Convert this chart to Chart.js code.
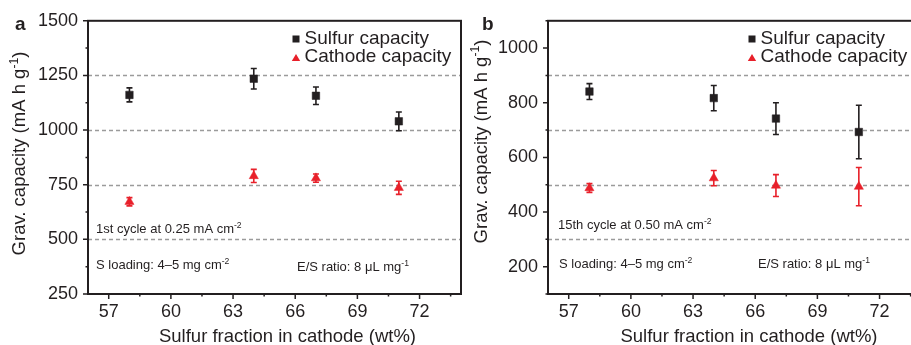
<!DOCTYPE html>
<html>
<head>
<meta charset="utf-8">
<script src="https://cdn.jsdelivr.net/npm/chart.js@4.4.0/dist/chart.umd.min.js"></script>
<style>
  html, body { margin: 0; padding: 0; background: #fff; overflow: hidden; }
  #wrap { position: relative; width: 911px; height: 345px; overflow: hidden; }
  canvas { position: absolute; top: 0; }
  #panelA { left: 0; }
  #panelB { left: 460px; }
</style>
</head>
<body>
<div id="wrap">
  <canvas id="panelA" width="463" height="345"></canvas>
  <canvas id="panelB" width="463" height="345"></canvas>
</div>
<script>
// values
const sulfurFraction = [58, 64, 67, 71];
const xTicks = [57, 60, 63, 66, 69, 72];
const xMinor = [58.5, 61.5, 64.5, 67.5, 70.5, 73.5];

// (a) 1st cycle
const sulfurCapA = [1161, 1235, 1157, 1040];
const sulfurErrA = [32, 47, 40, 43];
const cathodeCapA = [672, 790, 780, 736];
const cathodeErrA = [19, 30, 19, 30];
const yTicksA = [250, 500, 750, 1000, 1250, 1500];
const yMinorA = [375, 625, 875, 1125, 1375];
const dashedA = [500, 750, 1000, 1250];

// (b) 15th cycle
const sulfurCapB = [841, 817, 742, 693];
const sulfurErrB = [29, 46, 58, 98];
const cathodeCapB = [488, 524, 497, 493];
const cathodeErrB = [16, 28, 40, 70];
const yTicksB = [200, 400, 600, 800, 1000];
const yMinorB = [100, 300, 500, 700, 900, 1100];
const dashedB = [300, 500, 700, 900];

const ink = '#231f20';
const red = '#e8202a';
const FONT = "'Liberation Sans', Arial, sans-serif";

// text with superscript pieces: segs = [[text, isSup], ...]
function drawRich(ctx, segs, x, y, size, align) {
  const supSize = size * 0.66;
  let total = 0;
  segs.forEach(s => {
    ctx.font = (s[1] ? supSize : size) + 'px ' + FONT;
    total += ctx.measureText(s[0]).width;
  });
  let cx = align === 'center' ? x - total / 2 : x;
  ctx.textAlign = 'left';
  ctx.textBaseline = 'alphabetic';
  segs.forEach(s => {
    ctx.font = (s[1] ? supSize : size) + 'px ' + FONT;
    ctx.fillText(s[0], cx, s[1] ? y - size * 0.38 : y);
    cx += ctx.measureText(s[0]).width;
  });
}

function makePanel(id, opt) {
  const decor = {
    id: 'decor',
    beforeDatasetsDraw(chart) {
      const ctx = chart.ctx;
      const area = chart.chartArea;
      const xs = chart.scales.x, ys = chart.scales.y;
      ctx.save();
      // dashed reference lines
      ctx.strokeStyle = '#9b9b9b';
      ctx.lineWidth = 1.5;
      ctx.setLineDash([4, 3]);
      opt.dashed.forEach(v => {
        const y = Math.round(ys.getPixelForValue(v)) + 0.5;
        ctx.beginPath();
        ctx.moveTo(area.left, y);
        ctx.lineTo(area.right, y);
        ctx.stroke();
      });
      ctx.setLineDash([]);
      // error bars
      chart.data.datasets.forEach(ds => {
        ctx.strokeStyle = ds.pointBackgroundColor;
        ctx.lineWidth = 1.6;
        ds.err.forEach((e, j) => {
          const x = xs.getPixelForValue(sulfurFraction[j]);
          const v = ds.data[j].y;
          const y1 = ys.getPixelForValue(v + e);
          const y2 = ys.getPixelForValue(v - e);
          ctx.beginPath();
          ctx.moveTo(x, y1); ctx.lineTo(x, y2);
          ctx.moveTo(x - 3, y1); ctx.lineTo(x + 3, y1);
          ctx.moveTo(x - 3, y2); ctx.lineTo(x + 3, y2);
          ctx.stroke();
        });
      });
      ctx.restore();
    },
    afterDraw(chart) {
      const ctx = chart.ctx;
      const area = chart.chartArea;
      const xs = chart.scales.x, ys = chart.scales.y;
      ctx.save();
      // frame
      ctx.strokeStyle = ink;
      ctx.lineWidth = 2;
      ctx.strokeRect(area.left, area.top, area.right - area.left, area.bottom - area.top);
      // tick marks
      ctx.lineWidth = 1.5;
      ctx.beginPath();
      opt.yTicks.forEach(v => {
        const y = ys.getPixelForValue(v);
        ctx.moveTo(area.left - 5, y); ctx.lineTo(area.left, y);
      });
      opt.yMinor.forEach(v => {
        const y = ys.getPixelForValue(v);
        ctx.moveTo(area.left - 2.5, y); ctx.lineTo(area.left, y);
      });
      xTicks.forEach(v => {
        const x = xs.getPixelForValue(v);
        ctx.moveTo(x, area.bottom); ctx.lineTo(x, area.bottom + 5);
      });
      xMinor.forEach(v => {
        const x = xs.getPixelForValue(v);
        ctx.moveTo(x, area.bottom); ctx.lineTo(x, area.bottom + 2.5);
      });
      ctx.stroke();

      ctx.fillStyle = ink;
      // axis titles
      drawRich(ctx, [['Sulfur fraction in cathode (wt%)', 0]], opt.xTitleX, 342, 18.5, 'center');
      ctx.save();
      ctx.translate(opt.yTitleX, opt.yTitleY);
      ctx.rotate(-Math.PI / 2);
      drawRich(ctx, [['Grav. capacity (mA h g', 0], ['-1', 1], [')', 0]], 0, 0, 18.5, 'center');
      ctx.restore();

      // panel letter
      ctx.font = 'bold 19px ' + FONT;
      ctx.textAlign = 'left';
      ctx.fillText(opt.letter, opt.letterX, 30);

      // legend
      const lx = opt.legendX;
      ctx.fillStyle = ink;
      ctx.fillRect(lx - 3.5, 35.5, 7, 7);
      ctx.fillStyle = red;
      ctx.beginPath();
      ctx.moveTo(lx, 54); ctx.lineTo(lx + 4.2, 61); ctx.lineTo(lx - 4.2, 61);
      ctx.closePath(); ctx.fill();
      ctx.fillStyle = ink;
      ctx.font = '19px ' + FONT;
      ctx.fillText(chart.data.datasets[0].label, lx + 8.5, 43.5);
      ctx.fillText(chart.data.datasets[1].label, lx + 8.5, 62);

      // notes
      drawRich(ctx, opt.note1, opt.note1X, opt.note1Y, 13, 'left');
      drawRich(ctx, [['S loading: 4\u20135 mg cm', 0], ['-2', 1]], opt.note2X, opt.note2Y, 13, 'left');
      drawRich(ctx, [['E/S ratio: 8 \u03bcL mg', 0], ['-1', 1]], opt.note3X, opt.note3Y, 13, 'left');
      ctx.restore();
    }
  };

  return new Chart(document.getElementById(id), {
    type: 'scatter',
    data: {
      datasets: [{
        label: 'Sulfur capacity',
        data: opt.sulfur.map((v, i) => ({ x: sulfurFraction[i], y: v })),
        err: opt.sulfurErr,
        pointStyle: 'rect',
        pointRadius: 5.3,
        pointBackgroundColor: ink,
        pointBorderColor: ink,
        pointBorderWidth: 0.5
      }, {
        label: 'Cathode capacity',
        data: opt.cathode.map((v, i) => ({ x: sulfurFraction[i], y: v })),
        err: opt.cathodeErr,
        pointStyle: 'triangle',
        pointRadius: 5.3,
        pointBackgroundColor: red,
        pointBorderColor: red,
        pointBorderWidth: 0.5
      }]
    },
    options: {
      responsive: false,
      animation: false,
      events: [],
      layout: { autoPadding: false, padding: { top: 20, right: 2, left: 0, bottom: 0 } },
      plugins: { legend: { display: false }, tooltip: { enabled: false } },
      scales: {
        x: {
          type: 'linear', min: 56, max: 74,
          afterBuildTicks: s => { s.ticks = xTicks.map(v => ({ value: v })); },
          afterFit: s => { s.height = 51; },
          grid: { display: false, drawTicks: false },
          border: { display: false },
          ticks: { font: { family: FONT, size: 18 }, color: ink, padding: 7, callback: v => String(v) }
        },
        y: {
          min: opt.yMin, max: opt.yMax,
          afterBuildTicks: s => { s.ticks = opt.yTicks.map(v => ({ value: v })); },
          afterFit: s => { s.width = 88; },
          grid: { display: false, drawTicks: false },
          border: { display: false },
          ticks: { font: { family: FONT, size: 18 }, color: ink, padding: 10, callback: v => String(v) }
        }
      }
    },
    plugins: [decor]
  });
}

makePanel('panelA', {
  sulfur: sulfurCapA, sulfurErr: sulfurErrA,
  cathode: cathodeCapA, cathodeErr: cathodeErrA,
  yMin: 250, yMax: 1500, yTicks: yTicksA, yMinor: yMinorA, dashed: dashedA,
  letter: 'a', letterX: 15,
  legendX: 296,
  xTitleX: 287.5, yTitleX: 25, yTitleY: 153.5,
  note1: [['1st cycle at 0.25 mA cm', 0], ['-2', 1]], note1X: 96, note1Y: 233,
  note2X: 96, note2Y: 269, note3X: 297, note3Y: 271
});

makePanel('panelB', {
  sulfur: sulfurCapB, sulfurErr: sulfurErrB,
  cathode: cathodeCapB, cathodeErr: cathodeErrB,
  yMin: 100, yMax: 1100, yTicks: yTicksB, yMinor: yMinorB, dashed: dashedB,
  letter: 'b', letterX: 22,
  legendX: 292,
  xTitleX: 289, yTitleX: 26.5, yTitleY: 141.5,
  note1: [['15th cycle at 0.50 mA cm', 0], ['-2', 1]], note1X: 98, note1Y: 229,
  note2X: 99, note2Y: 268, note3X: 298, note3Y: 268
});
</script>
</body>
</html>
